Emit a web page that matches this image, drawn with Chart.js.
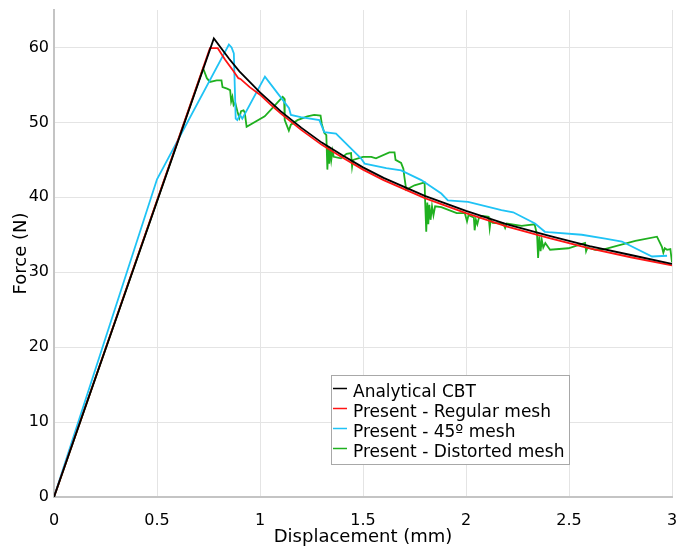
<!DOCTYPE html>
<html>
<head>
<meta charset="utf-8">
<script src="https://cdn.jsdelivr.net/npm/chart.js@4/dist/chart.umd.min.js"></script>
<style>
  body { margin: 0; background: #fff; }
  #wrap { width: 677px; height: 551px; }
</style>
</head>
<body>
<div id="wrap"><canvas id="forceChart" width="677" height="551"></canvas></div>
<script>
// Force vs displacement curves (mm, N)
const cbtX = [0, 0.776, 0.85, 0.9, 1.0, 1.1, 1.2, 1.3, 1.4, 1.5, 1.6, 1.7, 1.8, 1.9, 2.0, 2.2, 2.4, 2.6, 2.8, 3.0];
const cbtY = [0, 61.2, 58.5, 56.8, 54.0, 51.5, 49.3, 47.3, 45.6, 44.0, 42.6, 41.4, 40.2, 39.2, 38.2, 36.4, 34.9, 33.5, 32.3, 31.1];

const regularX = [0, 0.757, 0.795, 0.83, 0.87, 0.895, 0.905, 0.95, 1.0, 1.05, 1.1, 1.2, 1.3, 1.4, 1.5, 1.6, 1.7, 1.8, 1.9, 2.0, 2.1, 2.2, 2.4, 2.6, 2.8, 3.0];
const regularY = [0, 59.9, 59.9, 58.4, 56.9, 55.9, 55.8, 54.7, 53.7, 52.4, 51.2, 49.0, 47.0, 45.3, 43.7, 42.3, 41.1, 39.9, 38.9, 37.9, 37.0, 36.1, 34.6, 33.2, 32.0, 30.9];

const mesh45X = [0, 0.5, 0.849, 0.862, 0.873, 0.882, 0.89, 0.903, 0.914, 1.024, 1.085, 1.141, 1.15, 1.198, 1.288, 1.312, 1.369,
  1.49, 1.508, 1.613, 1.685, 1.783, 1.88, 1.912, 2.01, 2.172, 2.229, 2.335, 2.383, 2.4, 2.562, 2.676, 2.757, 2.903, 2.976];
const mesh45Y = [0, 42.4, 60.4, 60.0, 59.2, 50.5, 50.3, 51.0, 50.5, 56.1, 53.9, 51.9, 51.0, 50.7, 50.3, 48.7, 48.5,
  45.2, 44.5, 43.9, 43.6, 42.3, 40.5, 39.6, 39.4, 38.3, 38.0, 36.5, 35.4, 35.35, 35.0, 34.5, 34.1, 32.1, 32.2];

const distortedX = [0, 0.724, 0.735, 0.742, 0.757, 0.79, 0.813, 0.818, 0.84, 0.855, 0.86, 0.866, 0.872, 0.88, 0.89, 0.9, 0.908, 0.92, 0.926, 0.935,
  1.023, 1.07, 1.11, 1.117, 1.12, 1.13, 1.14, 1.15, 1.182, 1.23, 1.263, 1.294, 1.3, 1.312, 1.322, 1.327, 1.332, 1.336, 1.341, 1.346, 1.352, 1.358,
  1.393, 1.42, 1.442, 1.447, 1.452, 1.5, 1.54, 1.563, 1.628, 1.653, 1.658, 1.685, 1.696, 1.701, 1.71, 1.73, 1.75, 1.799, 1.802, 1.807, 1.812,
  1.817, 1.822, 1.828, 1.835, 1.842, 1.85, 1.88, 1.955, 1.994, 2.005, 2.012, 2.038, 2.042, 2.048, 2.055, 2.062, 2.08, 2.11, 2.115, 2.12, 2.13,
  2.181, 2.19, 2.198, 2.27, 2.333, 2.345, 2.35, 2.356, 2.362, 2.368, 2.375, 2.385, 2.408, 2.497, 2.578, 2.583, 2.59, 2.627, 2.66, 2.822,
  2.927, 2.951, 2.958, 2.965, 2.976, 2.992, 3.0];
const distortedY = [0, 57.2, 56.4, 55.9, 55.4, 55.6, 55.6, 54.7, 54.5, 54.3, 52.8, 53.4, 52.3, 52.6, 51.5, 50.6, 51.5, 51.6, 51.3, 49.4,
  50.8, 52.2, 53.4, 53.2, 50.3, 49.6, 48.9, 49.7, 50.3, 50.8, 51.0, 50.9, 49.8, 48.6, 48.3, 43.7, 46.8, 44.5, 46.5, 45.0, 46.2, 45.4,
  45.2, 45.8, 45.9, 44.1, 45.0, 45.4, 45.4, 45.2, 46.0, 46.0, 45.0, 44.6, 43.8, 42.7, 41.0, 41.3, 41.6, 42.0, 39.2, 35.4, 39.3,
  36.4, 39.0, 37.0, 38.8, 37.6, 38.8, 38.7, 37.9, 37.9, 36.8, 37.6, 37.3, 35.6, 37.0, 36.4, 37.2, 37.5, 37.4, 35.9, 37.0, 36.6,
  36.5, 35.9, 36.5, 36.2, 36.4, 35.0, 31.9, 34.8, 32.8, 34.3, 33.3, 33.9, 33.0, 33.2, 33.9, 32.8, 33.3, 33.0, 33.0, 34.2,
  34.75, 33.4, 32.6, 33.2, 33.0, 33.1, 31.3];

const xTicks = [0, 0.5, 1, 1.5, 2, 2.5, 3];
const yTicks = [0, 10, 20, 30, 40, 50, 60];

const seriesLabels = ["Analytical CBT", "Present - Regular mesh", "Present - 45º mesh", "Present - Distorted mesh"];
const seriesColors = ["#000000", "#ff1414", "#1fc3f5", "#1fb01f"];

const FONT = "'DejaVu Sans', Verdana, sans-serif";

function toPoints(xs, ys) {
  return xs.map((x, i) => ({ x: x, y: ys[i] }));
}

const allX = [cbtX, regularX, mesh45X, distortedX];
const allY = [cbtY, regularY, mesh45Y, distortedY];

const datasets = seriesLabels.map((label, i) => ({
  label: label,
  data: toPoints(allX[i], allY[i]),
  borderColor: seriesColors[i],
  backgroundColor: seriesColors[i],
  borderWidth: 1.8,
  pointRadius: 0,
  showLine: true,
  tension: 0
}));

// boxed legend sitting inside the plot, lower right
const boxLegend = {
  id: "boxLegend",
  afterDraw(chart) {
    const ctx = chart.ctx;
    const left = 331.5, top = 375.5, w = 238, h = 89;
    ctx.save();
    ctx.fillStyle = "#fff";
    ctx.fillRect(left, top, w, h);
    ctx.strokeStyle = "#a8a8a8";
    ctx.lineWidth = 1;
    ctx.strokeRect(left, top, w, h);
    ctx.font = "17px " + FONT;
    ctx.textBaseline = "middle";
    ctx.fillStyle = "#000";
    chart.data.datasets.forEach((ds, i) => {
      const y = top + 17.5 + i * 20;
      ctx.strokeStyle = ds.borderColor;
      ctx.lineWidth = 1.5;
      ctx.beginPath();
      ctx.moveTo(left + 1.5, y - 4.5);
      ctx.lineTo(left + 15.5, y - 4.5);
      ctx.stroke();
      ctx.fillText(ds.label, left + 21.5, y);
    });
    ctx.restore();
  }
};

new Chart(document.getElementById("forceChart"), {
  type: "scatter",
  data: { datasets: datasets },
  options: {
    responsive: false,
    animation: false,
    layout: { padding: { top: 10, right: 0, left: 0, bottom: 0 } },
    plugins: {
      legend: { display: false },
      tooltip: { enabled: false }
    },
    scales: {
      x: {
        type: "linear",
        min: 0,
        max: 3,
        afterBuildTicks: (scale) => { scale.ticks = xTicks.map(v => ({ value: v })); },
        afterFit: (scale) => {
          scale.height = 54;
          scale.paddingLeft = 0;
          scale.paddingRight = 5;
        },
        ticks: {
          padding: 14,
          color: "#000",
          font: { family: FONT, size: 16 },
          maxRotation: 0,
          callback: (v) => String(v)
        },
        grid: { color: "#e4e4e4", lineWidth: 1, drawTicks: false },
        border: { color: "#c4c4c4", width: 2 },
        title: {
          display: true,
          text: "Displacement (mm)",
          color: "#000",
          font: { family: FONT, size: 18 },
          padding: { top: 0, bottom: 3 }
        }
      },
      y: {
        type: "linear",
        min: 0,
        max: 65,
        afterBuildTicks: (scale) => { scale.ticks = yTicks.map(v => ({ value: v })); },
        afterFit: (scale) => {
          scale.width = 54;
          scale.paddingTop = 0;
          scale.paddingBottom = 0;
        },
        ticks: {
          padding: 5,
          color: "#000",
          font: { family: FONT, size: 16 },
          callback: (v) => String(v)
        },
        grid: { color: "#e4e4e4", lineWidth: 1, drawTicks: false },
        border: { color: "#c4c4c4", width: 2 },
        title: {
          display: true,
          text: "Force (N)",
          color: "#000",
          font: { family: FONT, size: 18 },
          padding: { top: 11, bottom: 0 }
        }
      }
    }
  },
  plugins: [boxLegend]
});
</script>
</body>
</html>
